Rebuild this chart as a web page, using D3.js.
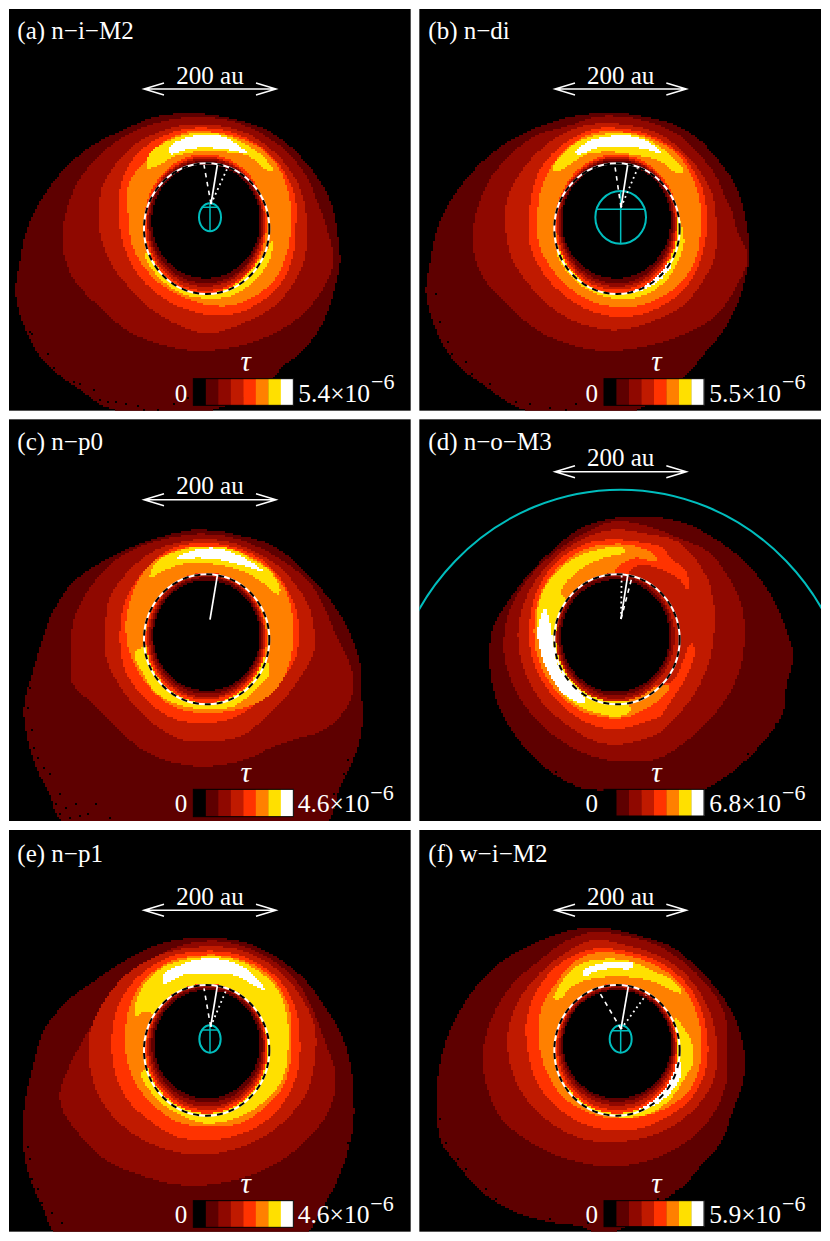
<!DOCTYPE html>
<html>
<head>
<meta charset="utf-8">
<script src="https://cdnjs.cloudflare.com/ajax/libs/d3/7.8.5/d3.min.js"></script>
<style>
  html, body { margin: 0; background: #fff; }
  text { font-family: "Liberation Serif", serif; fill: #fff; }
</style>
</head>
<body>
<svg id="chart" width="830" height="1241"></svg>
<script>
// optical depth colour steps, 0 .. top of the bar
let tauColors = ["#000000", "#5e0000", "#8f0800", "#c01a00", "#ff3300", "#ff8000", "#ffe000", "#ffffff"];

// all map values below are digitised positions on a 0-1245 grid per tile (1 grid unit = 1/3 px, 2 units ~ 1 au)
// band outlines: [level, [[x,y],...]]
let bandsA = [
  [1, [[560,340],[640,345],[720,362],[790,385],[860,430],[920,490],[970,560],[1000,630],[1015,720],[1020,790],[1005,860],[985,930],[950,1000],[900,1060],[860,1090],[800,1150],[740,1190],[600,1240],[450,1240],[327,1225],[227,1160],[137,1090],[77,990],[47,880],[57,800],[87,670],[157,550],[257,450],[380,385],[470,350]]],
  [2, [[560,352],[650,355],[730,375],[800,410],[860,455],[920,530],[950,600],[985,700],[1000,790],[960,880],[900,950],[800,1010],[680,1045],[560,1050],[397,1000],[297,920],[217,830],[187,730],[197,640],[237,540],[300,465],[370,410],[450,375]]],
  [3, [[560,375],[660,378],[740,400],[810,445],[870,510],[905,580],[922,680],[915,770],[880,850],[820,920],[740,965],[627,1000],[547,980],[457,930],[377,850],[327,780],[297,680],[297,620],[307,560],[357,480],[410,430],[480,395]]],
  [4, [[570,385],[660,388],[730,410],[800,455],[850,510],[885,590],[887,690],[880,760],[850,840],[790,900],[710,940],[627,945],[517,910],[427,840],[372,740],[357,650],[362,560],[397,480],[450,430],[510,400]]],
  [5, [[570,395],[650,398],[720,415],[790,450],[840,510],[870,600],[872,690],[860,760],[830,830],[770,885],[700,915],[627,915],[547,890],[467,840],[402,750],[385,650],[387,550],[430,490],[480,435],[520,410]]],
  [6, [[440,500],[450,460],[510,420],[580,400],[660,402],[730,430],[790,470],[820,515],[800,510],[740,465],[660,455],[590,455],[520,470],[480,495],[445,505]]],
  [6, [[435,760],[470,825],[540,878],[620,895],[700,885],[770,835],[812,770],[816,720],[780,780],[620,800],[480,760]]],
  [7, [[505,445],[540,420],[600,405],[650,405],[700,425],[740,460],[690,450],[620,443],[560,448],[510,462]]]
];
let bandsB = [
  [1, [[540,340],[620,340],[700,352],[780,375],[850,415],[910,480],[960,550],[985,620],[1000,700],[1005,770],[985,860],[960,930],[920,1000],[870,1060],[820,1120],[760,1170],[640,1240],[420,1240],[314,1225],[214,1160],[124,1090],[64,990],[34,880],[44,800],[74,670],[144,550],[244,450],[350,390],[450,355]]],
  [2, [[550,350],[640,352],[720,372],[800,410],[860,470],[905,530],[930,590],[950,630],[970,700],[1000,770],[965,860],[900,950],[790,1010],[660,1045],[540,1050],[384,1000],[284,920],[204,830],[174,730],[184,640],[224,540],[287,465],[357,410],[470,375]]],
  [3, [[540,372],[640,375],[730,400],[800,450],[860,520],[895,590],[905,680],[900,770],[860,850],[800,920],[710,965],[610,990],[510,975],[420,930],[340,850],[290,770],[272,670],[280,590],[330,500],[400,430],[470,390]]],
  [4, [[550,385],[650,390],[720,412],[790,455],[835,510],[870,590],[875,700],[860,770],[830,840],[770,900],[690,940],[600,950],[510,925],[430,870],[380,810],[345,730],[345,620],[375,510],[430,445],[490,405]]],
  [5, [[560,395],[640,398],[710,415],[780,455],[825,515],[855,600],[857,700],[845,770],[810,835],[750,885],[680,915],[600,920],[520,900],[450,850],[400,790],[370,720],[370,620],[385,550],[425,480],[490,420]]],
  [6, [[415,505],[440,465],[500,420],[570,402],[650,402],[720,430],[770,470],[808,515],[790,520],[730,480],[660,465],[580,455],[510,465],[470,490],[425,515]]],
  [6, [[425,750],[460,820],[520,870],[610,897],[690,885],[760,835],[800,760],[808,715],[785,650],[700,700],[600,780],[480,760]]],
  [7, [[480,460],[520,425],[590,408],[650,408],[700,425],[740,458],[680,445],[610,440],[540,445],[500,462]]],
  [7, [[570,868],[650,878],[730,845],[770,790],[640,820]]]
];
let bandsC = [
  [1, [[590,345],[660,350],[730,365],[800,385],[860,420],[920,475],[990,555],[1040,635],[1080,745],[1085,835],[1085,945],[1060,1035],[1020,1115],[970,1230],[197,1230],[147,1135],[107,1055],[77,945],[72,875],[97,775],[127,675],[157,595],[217,505],[317,435],[400,395],[490,365],[550,350]]],
  [2, [[590,358],[680,365],[770,395],[850,440],[930,505],[980,595],[1005,655],[1040,725],[1060,790],[1050,860],[1000,925],[950,955],[880,975],[810,1000],[750,1030],[627,1055],[527,1045],[427,1005],[357,945],[287,875],[217,805],[212,715],[217,635],[247,555],[310,470],[370,420],[450,385],[520,368]]],
  [3, [[590,375],[680,380],[760,410],[830,450],[890,515],[930,585],[945,685],[940,715],[900,790],[850,855],[790,915],[720,965],[620,980],[547,975],[457,925],[367,825],[317,725],[317,625],[327,555],[380,475],[460,410],[530,385]]],
  [4, [[590,385],[680,392],[760,420],[820,465],[865,530],[892,600],[895,690],[880,745],[820,825],[750,880],[700,910],[620,925],[530,915],[460,875],[400,810],[370,750],[360,650],[380,550],[440,460],[510,405]]],
  [5, [[590,395],[680,400],[750,425],[810,465],[855,525],[877,600],[878,690],[860,770],[820,830],[760,870],[680,890],[610,895],[530,880],[470,840],[420,780],[385,700],[378,620],[400,530],[450,450],[520,410]]],
  [6, [[450,490],[470,440],[530,410],[600,395],[680,400],[750,430],[810,470],[840,520],[835,540],[790,505],[730,470],[650,450],[570,445],[510,460],[470,480]]],
  [6, [[405,710],[425,770],[470,835],[540,872],[620,882],[700,875],[770,820],[810,770],[780,720],[600,700]]],
  [7, [[530,430],[570,410],[640,400],[700,415],[750,440],[790,470],[720,450],[640,432],[570,430]]]
];
let bandsD = [
  [1, [[600,310],[700,305],[790,320],[855,345],[985,435],[1065,535],[1115,645],[1135,725],[1115,815],[1105,895],[1035,995],[935,1085],[865,1125],[840,1135],[600,1135],[540,1125],[500,1120],[420,1080],[360,1030],[300,960],[250,870],[225,750],[235,640],[280,560],[350,470],[420,400],[500,340]]],
  [2, [[600,320],[700,335],[790,370],[885,415],[975,555],[990,645],[980,745],[945,835],[865,935],[735,1030],[650,1040],[550,1030],[450,985],[370,920],[310,840],[270,730],[275,620],[320,520],[400,430],[500,360]]],
  [3, [[600,345],[680,355],[795,385],[875,485],[895,555],[900,615],[885,735],[835,845],[775,915],[735,955],[680,975],[600,990],[530,975],[450,925],[380,860],[330,770],[310,670],[320,590],[355,510],[420,430],[510,370]]],
  [4, [[600,375],[690,385],[735,395],[775,435],[815,470],[820,525],[790,490],[740,465],[680,450],[640,480],[620,650],[700,800],[770,800],[830,685],[840,715],[815,785],[765,865],[735,905],[680,925],[600,945],[520,925],[450,880],[390,810],[350,720],[345,620],[375,510],[440,430],[520,385]]],
  [5, [[600,388],[650,392],[720,420],[725,440],[660,430],[600,470],[560,670],[600,850],[700,820],[765,815],[740,850],[680,890],[620,910],[530,900],[470,870],[410,810],[370,730],[358,640],[380,530],[440,450],[520,400]]],
  [6, [[620,398],[632,412],[560,432],[490,470],[440,530],[500,600],[550,700],[640,860],[645,890],[610,905],[540,893],[470,860],[420,800],[385,720],[365,640],[385,530],[450,450],[530,410]]],
  [7, [[390,580],[370,640],[375,700],[405,780],[450,840],[500,865],[515,860],[470,810],[430,750],[415,680],[400,600]]]
];
let bandsE = [
  [1, [[620,338],[700,345],[770,365],[850,410],[920,470],[970,540],[1020,620],[1050,710],[1060,800],[1060,900],[1040,990],[1010,1070],[960,1160],[900,1240],[180,1240],[130,1150],[90,1060],[70,960],[75,830],[100,720],[130,620],[200,530],[280,470],[370,410],[470,360],[550,342]]],
  [2, [[620,348],[700,355],[780,385],[850,430],[905,490],[945,570],[975,650],[1005,740],[1000,820],[960,900],[880,980],[780,1040],[660,1075],[540,1080],[420,1050],[310,1000],[240,930],[190,860],[180,800],[210,720],[270,610],[340,510],[420,430],[520,370]]],
  [3, [[620,365],[710,372],[790,405],[860,460],[915,535],[945,610],[945,700],[925,790],[880,860],[800,930],[710,970],[600,990],[490,970],[390,920],[320,850],[280,770],[265,650],[285,580],[340,490],[410,425],[510,380]]],
  [4, [[620,378],[710,388],[790,425],[850,480],[890,560],[900,650],[895,730],[870,800],[820,870],[740,920],[640,945],[530,935],[440,880],[380,820],[345,740],[335,640],[360,530],[420,450],[510,395]]],
  [5, [[620,390],[700,398],[780,430],[840,490],[870,560],[875,660],[865,740],[840,800],[790,850],[720,895],[620,905],[530,890],[460,840],[410,780],[385,720],[375,640],[385,560],[420,480],[510,410]]],
  [6, [[405,575],[420,500],[470,440],[530,410],[620,395],[700,402],[770,435],[830,490],[860,570],[865,650],[855,740],[830,790],[780,840],[720,875],[620,895],[540,870],[470,820],[425,740],[600,680],[440,560]]],
  [7, [[490,450],[540,420],[600,402],[660,402],[720,420],[760,450],[795,495],[760,480],[700,450],[620,445],[550,450],[490,475]]]
];
let bandsF = [
  [1, [[540,308],[620,318],[700,340],[770,365],[850,430],[920,510],[965,590],[990,690],[985,770],[950,870],[920,950],[860,1020],[810,1080],[770,1110],[640,1200],[560,1230],[500,1205],[400,1190],[300,1160],[200,1100],[130,1020],[80,950],[65,840],[75,720],[105,620],[180,490],[260,410],[350,360],[450,320]]],
  [2, [[540,320],[620,330],[700,350],[770,385],[840,440],[910,525],[935,590],[935,690],[935,770],[900,860],[830,940],[720,1000],[590,1025],[470,1005],[360,960],[260,880],[215,780],[205,680],[240,560],[300,470],[370,410],[450,350]]],
  [3, [[540,345],[630,360],[700,380],[780,420],[840,480],[885,560],[905,640],[905,730],[880,800],[820,870],[740,920],[620,950],[500,940],[390,880],[320,800],[285,710],[280,620],[310,530],[370,450],[450,385]]],
  [4, [[550,370],[640,380],[720,405],[790,450],[840,510],[870,590],[880,680],[865,760],[820,830],[750,880],[650,915],[530,905],[430,850],[365,770],[340,680],[335,590],[370,490],[430,420],[490,385]]],
  [5, [[550,382],[640,392],[710,415],[780,460],[830,525],[857,610],[860,690],[840,770],[800,820],[730,860],[640,880],[540,870],[450,820],[400,750],[372,650],[380,550],[420,480],[480,410]]],
  [6, [[418,520],[435,480],[490,420],[570,402],[650,410],[720,440],[780,470],[800,505],[770,495],[700,465],[620,455],[540,460],[480,480],[430,525]]],
  [6, [[780,580],[830,650],[835,710],[810,760],[760,830],[690,870],[600,875],[540,860],[480,820],[450,780],[600,700],[770,640]]],
  [7, [[505,440],[540,420],[600,410],[655,415],[650,430],[590,430],[540,440],[510,455]]],
  [7, [[795,710],[800,750],[770,800],[720,840],[660,855],[590,860],[600,840],[700,800]]]
];

// inner edge of each disc, outermost first: [level, left, right, top, bottom]
let innerA = [[4,432,800,462,880],[3,438,795,470,872],[2,443,790,475,860],[1,448,786,482,850],[0,455,780,492,835]];
let innerB = [[4,422,790,463,880],[3,427,785,470,870],[2,432,780,475,860],[1,437,775,480,850],[0,442,768,490,835]];
let innerC = [[4,437,800,474,865],[3,442,795,479,855],[2,448,790,483,848],[1,455,785,488,838],[0,460,780,497,828]];
let innerD = [[3,423,785,476,860],[2,428,780,480,852],[1,433,772,485,842],[0,440,765,495,832]];
let innerE = [[4,436,803,476,865],[3,442,798,479,855],[2,448,793,483,845],[1,455,787,488,832],[0,462,780,495,820]];
let innerF = [[4,422,790,477,865],[3,428,785,481,855],[2,434,780,485,842],[1,440,775,490,830],[0,445,770,495,820]];

// single empty cells read along the thin outer edge
let specksA = [[87,990],[95,1000],[90,1030],[142,1060],[157,1100],[160,1115],[217,1140],[235,1150],[262,1190],[280,1165],[297,1195],[320,1200],[345,1205],[375,1210],[410,1215],[430,1225],[470,1225],[520,1210],[560,1190],[230,1180],[250,1200]];
let specksB = [[95,1020],[110,1060],[130,1100],[170,1120],[200,1170],[220,1150],[250,1190],[300,1200],[340,1210],[400,1220],[450,1225],[60,880],[75,960],[150,1080],[480,1210],[520,1190]];
let specksC = [[87,815],[82,875],[92,945],[97,995],[112,1025],[127,1055],[147,1075],[177,1135],[162,1165],[197,1175],[227,1165],[262,1195],[287,1165],[327,1205],[177,1195],[207,1205],[237,1200],[1070,995],[1040,1035],[1030,1075],[1000,1135],[1080,965],[1060,1025]];
let specksD = [[1115,795],[1105,885],[1080,925],[1025,995],[995,1015],[945,1075],[1065,955],[420,1070],[470,1105]];
let specksE = [[90,1060],[110,1090],[120,1130],[150,1160],[180,1190],[80,960],[85,1000],[1040,950],[1020,1040],[1000,1100]];
let specksF = [[130,1000],[150,1030],[180,1090],[210,1090],[240,1120],[280,1160],[330,1170],[400,1180],[460,1195],[520,1190],[70,880],[90,950],[600,1190],[730,1120],[780,1095]];

let panelNames = ["(a) n\u2212i\u2212M2", "(b) n\u2212di", "(c) n\u2212p0", "(d) n\u2212o\u2212M3", "(e) n\u2212p1", "(f) w\u2212i\u2212M2"];
let tauMax = ["5.4", "5.5", "4.6", "6.8", "4.6", "5.9"];
let bands = [bandsA, bandsB, bandsC, bandsD, bandsE, bandsF];
let inner = [innerA, innerB, innerC, innerD, innerE, innerF];
let specks = [specksA, specksB, specksC, specksD, specksE, specksF];

// tile origin in the page, and frame on the grid [left, right, top, bottom]
let tileOrigin = [[0,0],[415,0],[0,415],[415,415],[0,825],[415,825]];
let tileFrame = [[27,1232,27,1232],[13,1218,27,1232],[27,1232,13,1218],[13,1218,13,1218],[27,1232,15,1220],[13,1218,15,1220]];
// dust ring [left, right, top, bottom]
let ringBox = [[432,808,490,882],[418,794,490,882],[432,808,478,868],[418,794,478,868],[432,808,480,872],[418,794,480,872]];
// star origin and the tips of solid, dashed and dotted lines
let lineOrigin = [[633,612],[618,622],[630,614],[618,612],[632,605],[618,612]];
let solidTip = [[652,495],[638,495],[652,482],[638,482],[652,483],[640,484]];
let dashTip = [[612,495],[600,500],null,[650,490],[612,490],[555,505]];
let dotTip = [[682,505],[668,505],null,[620,480],[680,492],[693,510]];
// binary orbit [cx, cy, rx, ry, crossbar y, crossbar left, crossbar right]
let orbit = [[630,652,33,42,622,605,655],[617,652,76,79,628,545,690],null,[617,954,702,730,null,null,null],[630,642,32,41,615,605,655],[617,642,33,41,617,590,645]];
// scale arrow [left, right, y], label baselines
let arrowPos = [[432,828,267],[420,814,267],[432,828,254],[420,814,170],[432,828,256],[420,814,256]];
let titleX = [52,40,52,40,52,40];
let titleY = [118,118,105,105,110,110];
// colour bar [left, top, bottom]
let barPos = [[580,1136,1216],[567,1136,1216],[580,1123,1205],[567,1123,1203],[580,1127,1207],[567,1127,1205]];
let barLabelY = [1205,1205,1192,1192,1194,1194];
let barLabelX = [895,883,893,883,893,883];

let x = d3.scaleLinear().domain([0, 1245]).range([0, 415]);
let y = d3.scaleLinear().domain([0, 1245]).range([0, 415]);

let svg = d3.select("#chart");
let closedLine = d3.line().x(d => x(d[0])).y(d => y(d[1])).curve(d3.curveCatmullRomClosed.alpha(0.5));
let helper = svg.append("path").attr("fill", "none");

// smooth the read outline, then walk along it for a polygon in px
function outline(points) {
  helper.attr("d", closedLine(points));
  let len = helper.node().getTotalLength(), out = [];
  for (let s = 0; s < len; s += 2) {
    let p = helper.node().getPointAtLength(s);
    out.push([p.x, p.y]);
  }
  return out;
}

// image cells are 2 px, so fill each outline row by row on that grid
function cellPath(poly, left, top, right, bottom) {
  let cell = 2, d = d3.path();
  for (let row = top; row < bottom; row += cell) {
    let yc = row + cell / 2, hits = [];
    for (let i = 0; i < poly.length; i++) {
      let a = poly[i], b = poly[(i + 1) % poly.length];
      if ((a[1] <= yc) !== (b[1] <= yc)) hits.push(a[0] + (yc - a[1]) / (b[1] - a[1]) * (b[0] - a[0]));
    }
    hits.sort(d3.ascending);
    for (let i = 0; i + 1 < hits.length; i += 2) {
      let c0 = left + Math.round((hits[i] - left) / cell) * cell,
          c1 = left + Math.round((hits[i + 1] - left) / cell) * cell;
      if (c1 > c0) d.rect(c0, row, c1 - c0, cell);
    }
  }
  return d.toString();
}

function discPoints(box) {
  let cx = (box[0] + box[1]) / 2, cy = (box[2] + box[3]) / 2, rx = (box[1] - box[0]) / 2, ry = (box[3] - box[2]) / 2;
  return d3.range(0, 360, 20).map(a => [cx + rx * Math.cos(a * Math.PI / 180), cy + ry * Math.sin(a * Math.PI / 180)]);
}

function drawPanel(k) {
  let f = tileFrame[k];
  let g = svg.append("g").attr("transform", "translate(" + tileOrigin[k][0] + "," + tileOrigin[k][1] + ")");
  let left = x(f[0]), right = x(f[1]), top = y(f[2]), bottom = y(f[3]);

  g.append("clipPath").attr("id", "clip" + k).append("rect")
    .attr("x", left).attr("y", top).attr("width", right - left).attr("height", bottom - top);
  g.append("rect").attr("x", left).attr("y", top).attr("width", right - left).attr("height", bottom - top)
    .attr("fill", "#000");

  let map = g.append("g").attr("clip-path", "url(#clip" + k + ")");
  let layers = bands[k].map(b => ({level: b[0], pts: b[1]}))
    .concat(inner[k].map(b => ({level: b[0], pts: discPoints(b.slice(1))})));
  map.selectAll("path.band").data(layers).enter().append("path")
    .attr("class", "band")
    .attr("fill", d => tauColors[d.level])
    .attr("shape-rendering", "crispEdges")
    .attr("d", d => cellPath(outline(d.pts), left, top, right, bottom));

  map.selectAll("rect.speck").data(specks[k]).enter().append("rect")
    .attr("class", "speck")
    .attr("x", d => left + Math.round((x(d[0]) - left) / 2) * 2)
    .attr("y", d => top + Math.round((y(d[1]) - top) / 2) * 2)
    .attr("width", 2).attr("height", 2)
    .attr("fill", "#000").attr("shape-rendering", "crispEdges");

  // dust ring, white under black dashes
  let r = ringBox[k];
  let ring = g.append("g").attr("clip-path", "url(#clip" + k + ")");
  ["#fff", "#000"].forEach(function(c, i) {
    ring.append("ellipse")
      .attr("cx", x((r[0] + r[1]) / 2)).attr("cy", y((r[2] + r[3]) / 2))
      .attr("rx", x((r[1] - r[0]) / 2)).attr("ry", y((r[3] - r[2]) / 2))
      .attr("fill", "none").attr("stroke", c).attr("stroke-width", 2)
      .attr("stroke-dasharray", i ? "6,6" : null);
  });

  // binary orbit
  let o = orbit[k];
  if (o) {
    ring.append("ellipse")
      .attr("cx", x(o[0])).attr("cy", y(o[1])).attr("rx", x(o[2])).attr("ry", y(o[3]))
      .attr("fill", "none").attr("stroke", "#00bdbd").attr("stroke-width", 2);
    if (o[4] !== null) {
      ring.append("line").attr("x1", x(o[5])).attr("x2", x(o[6])).attr("y1", y(o[4])).attr("y2", y(o[4]))
        .attr("stroke", "#00bdbd").attr("stroke-width", 1.5);
      ring.append("line").attr("x1", x(o[0])).attr("x2", x(o[0])).attr("y1", y(o[1] - o[3])).attr("y2", y(o[1] + o[3]))
        .attr("stroke", "#00bdbd").attr("stroke-width", 1.5);
    }
  }

  // pericentre directions
  let p0 = lineOrigin[k];
  [[solidTip[k], null, 1.7], [dashTip[k], "4.5,4.5", 1.6], [dotTip[k], "1.8,3.4", 1.8]].forEach(function(l) {
    if (!l[0]) return;
    g.append("line")
      .attr("x1", x(p0[0])).attr("y1", y(p0[1])).attr("x2", x(l[0][0])).attr("y2", y(l[0][1]))
      .attr("stroke", "#fff").attr("stroke-width", l[2]).attr("stroke-dasharray", l[1]);
  });

  // 200 au arrow
  let a = arrowPos[k], ay = y(a[2]), ax0 = x(a[0]), ax1 = x(a[1]);
  let arrow = d3.path();
  arrow.moveTo(ax0, ay); arrow.lineTo(ax1, ay);
  arrow.moveTo(ax0 + 20, ay - 6); arrow.lineTo(ax0, ay); arrow.lineTo(ax0 + 20, ay + 6);
  arrow.moveTo(ax1 - 20, ay - 6); arrow.lineTo(ax1, ay); arrow.lineTo(ax1 - 20, ay + 6);
  g.append("path").attr("d", arrow.toString()).attr("fill", "none").attr("stroke", "#fff").attr("stroke-width", 1.5);
  g.append("text").attr("x", (ax0 + ax1) / 2).attr("y", ay - 5.5).attr("text-anchor", "middle")
    .attr("font-size", 25).text("200 au");

  g.append("text").attr("x", x(titleX[k])).attr("y", y(titleY[k])).attr("font-size", 25).text(panelNames[k]);

  // colour bar
  let b = barPos[k];
  let bar = d3.scaleBand().domain(d3.range(tauColors.length)).range([x(b[0]), x(b[0] + 300)]);
  g.selectAll("rect.bar").data(tauColors).enter().append("rect")
    .attr("class", "bar")
    .attr("x", (d, i) => bar(i)).attr("y", y(b[1]))
    .attr("width", bar.bandwidth() + 0.3).attr("height", y(b[2]) - y(b[1]))
    .attr("fill", d => d);
  g.append("rect").attr("x", x(b[0])).attr("y", y(b[1])).attr("width", x(300)).attr("height", y(b[2]) - y(b[1]))
    .attr("fill", "none").attr("stroke", "#000").attr("stroke-width", 1);

  let ly = y(barLabelY[k]);
  g.append("text").attr("x", x(b[0]) - 6).attr("y", ly).attr("text-anchor", "end").attr("font-size", 25).text("0");
  g.append("text").attr("x", x(b[0] + 157)).attr("y", ly - 30.5).attr("text-anchor", "middle")
    .attr("font-size", 29).attr("font-style", "italic").text("\u03c4");
  g.append("text").attr("x", x(barLabelX[k])).attr("y", ly).attr("font-size", 25.5).text(tauMax[k] + "\u00d710");
  g.append("text").attr("x", x(barLabelX[k] + 218)).attr("y", ly - 12.5).attr("font-size", 22).text("\u22126");
}

d3.range(6).forEach(drawPanel);
helper.remove();
</script>
</body>
</html>
